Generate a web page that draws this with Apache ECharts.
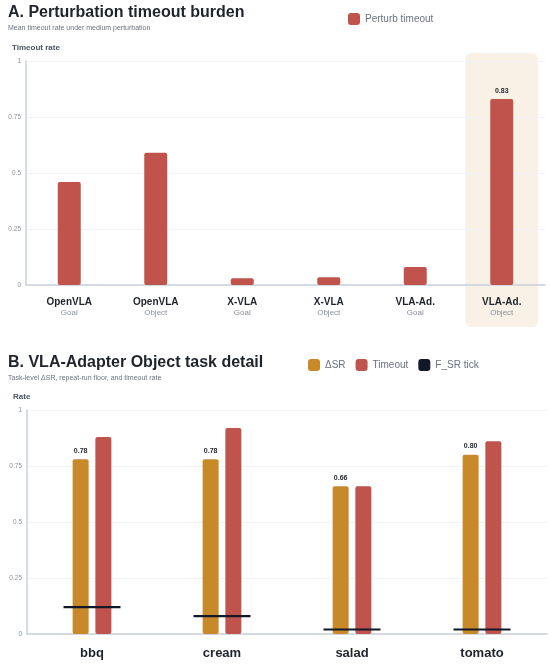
<!DOCTYPE html>
<html><head><meta charset="utf-8">
<script src="https://cdn.jsdelivr.net/npm/echarts@6/dist/echarts.min.js"></script>
<style>html,body{margin:0;padding:0;background:#fff}#c{width:550px;height:665px}</style>
</head><body><div id="c"></div>
<script>
// Panel A data
const modelNames = ['OpenVLA','OpenVLA','X-VLA','X-VLA','VLA-Ad.','VLA-Ad.'];
const suiteNames = ['Goal','Object','Goal','Object','Goal','Object'];
const perturbTimeout = [0.46, 0.59, 0.03, 0.035, 0.08, 0.83];
const highlightIndex = 5;
// Panel B data
const tasks = ['bbq','cream','salad','tomato'];
const deltaSR = [0.78, 0.78, 0.66, 0.80];
const timeoutB = [0.88, 0.92, 0.66, 0.86];
const fsrTick = [0.12, 0.08, 0.02, 0.02];
const yTicks = [0, 0.25, 0.5, 0.75, 1];

const RED = '#C0534B', ORANGE = '#C8892B', DARK = '#111827';
const catsA = modelNames.map((m,i)=>m+'\n'+suiteNames[i]);
const font = 'Liberation Sans, Arial, Helvetica, sans-serif';

function yAxis(grid, name){
  return {
    type:'value', gridIndex:grid, min:yTicks[0], max:yTicks[yTicks.length-1], interval:0.25,
    name:name, nameLocation:'end', nameGap:9,
    nameTextStyle:{fontFamily:font, fontSize:8, fontWeight:'bold', color:'#4b5563', align:'left', padding:[0,0,0,-14]},
    axisLine:{show:true, lineStyle:{color:'#c9d0da', width:1.5}},
    axisTick:{show:false},
    axisLabel:{fontFamily:font, fontSize:6.5, color:'#8a919c', margin:5},
    splitLine:{lineStyle:{color:'#f1f3f6', width:1}}
  };
}

const chart = echarts.init(document.getElementById('c'), null, {renderer:'canvas'});
const option = {
  animation:false,
  backgroundColor:'#fff',
  title:[
    {text:'A. Perturbation timeout burden', subtext:'Mean timeout rate under medium perturbation', left:8, top:5, padding:0, itemGap:4,
     textStyle:{fontFamily:font, fontSize:16, fontWeight:'bold', color:'#1f232b'},
     subtextStyle:{fontFamily:font, fontSize:7, color:'#6b7280'}},
    {text:'B. VLA-Adapter Object task detail', subtext:'Task-level ΔSR, repeat-run floor, and timeout rate', left:8, top:355, padding:0, itemGap:4,
     textStyle:{fontFamily:font, fontSize:16, fontWeight:'bold', color:'#1f232b'},
     subtextStyle:{fontFamily:font, fontSize:7, color:'#6b7280'}}
  ],
  legend:[
    {data:['Perturb timeout'], left:348, top:13, icon:'roundRect', itemWidth:12, itemHeight:12, itemGap:12, padding:0,
     textStyle:{fontFamily:font, fontSize:10, color:'#6b7280'}},
    {data:['ΔSR','Timeout','F_SR tick'], left:308, top:359, icon:'roundRect', itemWidth:12, itemHeight:12, itemGap:10, padding:0,
     textStyle:{fontFamily:font, fontSize:10, color:'#6b7280'}}
  ],
  grid:[
    {left:26, right:5, top:61, bottom:380},
    {left:27, right:3, top:410, bottom:31}
  ],
  xAxis:[
    {type:'category', gridIndex:0, data:catsA,
     axisLine:{lineStyle:{color:'#c9d0da', width:1.5}}, axisTick:{show:false},
     axisLabel:{margin:11, interval:0, formatter:v=>{const p=v.split('\n');return '{m|'+p[0]+'}\n{s|'+p[1]+'}';},
       rich:{m:{fontFamily:font, fontSize:10, fontWeight:'bold', color:'#1f232b', lineHeight:12},
             s:{fontFamily:font, fontSize:8, color:'#8a919c', lineHeight:10}}}},
    {type:'category', gridIndex:1, data:tasks,
     axisLine:{lineStyle:{color:'#c9d0da', width:1.5}}, axisTick:{show:false},
     axisLabel:{margin:13, interval:0, fontFamily:font, fontSize:13, fontWeight:'bold', color:'#1f232b'}}
  ],
  yAxis:[yAxis(0,'Timeout rate'), yAxis(1,'Rate')],
  series:[
    {name:'Perturb timeout', type:'bar', xAxisIndex:0, yAxisIndex:0, data:perturbTimeout.map((v,i)=>({
        value:v,
        label:{show:i===highlightIndex}
      })),
     barWidth:23, itemStyle:{color:RED, borderRadius:2},
     label:{position:'top', distance:5, fontFamily:font, fontSize:7, fontWeight:'bold', color:'#1f232b', formatter:p=>p.value.toFixed(2)}},
    {name:'ΔSR', type:'bar', xAxisIndex:1, yAxisIndex:1, data:deltaSR, barWidth:16, barGap:'42%',
     itemStyle:{color:ORANGE, borderRadius:2},
     label:{show:true, position:'top', distance:5, fontFamily:font, fontSize:7, fontWeight:'bold', color:'#1f232b', formatter:p=>p.value.toFixed(2)}},
    {name:'Timeout', type:'bar', xAxisIndex:1, yAxisIndex:1, data:timeoutB, barWidth:16, barGap:'42%',
     itemStyle:{color:RED, borderRadius:2}},
    {name:'F_SR tick', type:'scatter', xAxisIndex:1, yAxisIndex:1, data:fsrTick, symbol:'rect', symbolSize:[57,2.2],
     itemStyle:{color:DARK, opacity:1}, z:5}
  ]
};
chart.setOption(option);

// highlight band behind the highlighted category in panel A
const x0 = chart.convertToPixel({xAxisIndex:0}, 0);
const x1 = chart.convertToPixel({xAxisIndex:0}, 1);
const band = x1 - x0;
const cx = chart.convertToPixel({xAxisIndex:0}, highlightIndex);
const yTop = chart.convertToPixel({yAxisIndex:0}, 1);
const yBot = chart.convertToPixel({yAxisIndex:0}, 0);
const w = band*0.84;
chart.setOption({graphic:[{type:'rect', z:-10, silent:true,
  shape:{x:cx-w/2, y:yTop-8, width:w, height:(yBot-yTop)+50, r:6},
  style:{fill:'#f9f1e6'}}]});
</script></body></html>
